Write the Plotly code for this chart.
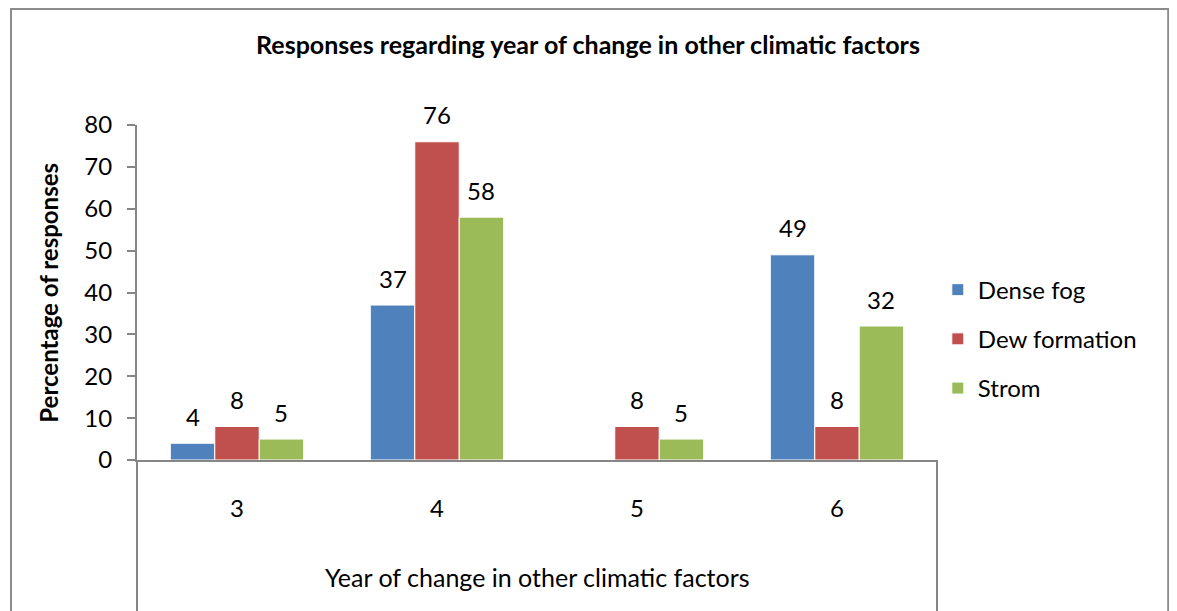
import plotly.graph_objects as go

# data
years = ["3", "4", "5", "6"]
dense_fog = [4, 37, None, 49]
dew_formation = [8, 76, 8, 8]
strom = [5, 58, 5, 32]

series_names = ["Dense fog", "Dew formation", "Strom"]
series_colors = ["#4F81BD", "#C0504D", "#9BBB59"]

FONT = "Lato"
GRAY = "#868686"
PAGE_OFF = 8  # the html body margin shifts the figure by this many px

fig = go.Figure()
for i, (name, vals, col) in enumerate(zip(series_names, [dense_fog, dew_formation, strom], series_colors)):
    fig.add_trace(go.Bar(
        x=years, y=vals, name=name,
        marker=dict(color=col, line=dict(color="white", width=1)),
        legendgroup=name,
    ))
    # data labels above each bar (numeric x = category index)
    for k, v in enumerate(vals):
        if v is None:
            continue
        fig.add_annotation(
            x=k, y=v, text=str(v), showarrow=False,
            xshift=(i - 1) * 44.4, yshift=27, yanchor="middle",
            font=dict(family=FONT, size=24, color="black"),
        )

fig.update_layout(
    width=1177, height=611,
    paper_bgcolor="white", plot_bgcolor="white",
    margin=dict(l=137 - PAGE_OFF, r=1177 - (937 - PAGE_OFF),
                t=125 - PAGE_OFF, b=611 - (460 - PAGE_OFF)),
    barmode="group", bargap=0.333, bargroupgap=0,
    font=dict(family=FONT, size=24, color="black"),
    title=dict(
        text="<b>Responses regarding year of change in other climatic factors</b>",
        x=(588 - PAGE_OFF) / 1177, xanchor="center",
        y=1 - (45 - PAGE_OFF) / 611, yanchor="middle",
        font=dict(family=FONT, size=25, color="black"),
    ),
    xaxis=dict(
        type="category", range=[-0.5, 3.5],
        showline=True, linecolor=GRAY, linewidth=2,
        ticks="", showgrid=False, ticklabelstandoff=26,
        tickfont=dict(family=FONT, size=24),
    ),
    yaxis=dict(
        range=[0, 80], dtick=10, showline=True, linecolor=GRAY, linewidth=2,
        ticks="outside", ticklen=8, tickcolor=GRAY, tickwidth=2,
        showgrid=False, zeroline=False, ticklabelstandoff=10,
        tickfont=dict(family=FONT, size=24),
    ),
    legend=dict(
        x=1.001, xanchor="left", y=0.361, yanchor="middle",
        font=dict(family=FONT, size=24), tracegroupgap=15,
        bgcolor="rgba(0,0,0,0)",
    ),
    showlegend=True,
)

# axis titles
fig.add_annotation(
    xref="paper", yref="paper", x=0.5, y=-0.349,
    text="Year of change in other climatic factors", showarrow=False,
    font=dict(family=FONT, size=25), yanchor="middle",
)
fig.add_annotation(
    xref="paper", yref="paper", x=-0.111, y=0.5, textangle=-90,
    text="<b>Percentage of responses</b>", showarrow=False,
    font=dict(family=FONT, size=24), xanchor="center", yanchor="middle",
)

# category box lines below the axis and outer chart border
for xp in [0, 1]:
    fig.add_shape(type="line", xref="paper", yref="paper",
                  x0=xp, x1=xp, y0=0, y1=-0.5,
                  line=dict(color=GRAY, width=2))
fig.add_shape(type="rect", xref="paper", yref="paper",
              x0=-0.1575, x1=1.289, y0=-0.6, y1=1 + (125 - PAGE_OFF - 1) / 335,
              line=dict(color="#8C8C8C", width=2))

fig.write_html("out.html")
